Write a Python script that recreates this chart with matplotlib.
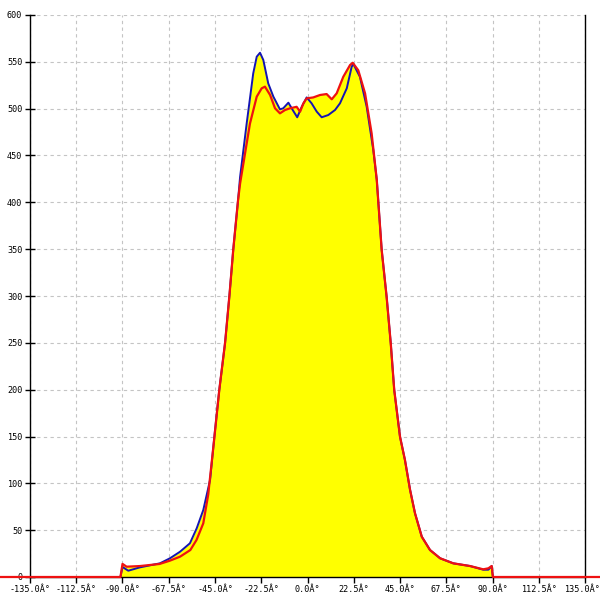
import matplotlib
matplotlib.use('Agg')
import matplotlib.pyplot as plt
import matplotlib.transforms as mtransforms
import numpy as np

# angles (deg) and counts
red_angle = [-180, -91, -90, -88, -81.5, -72, -67, -62, -57, -54, -50.7, -48.3, -45.5, -42.9, -40.1,
             -38.0, -36.1, -33.8, -32.8, -28.0, -24.7, -22.3, -20.7, -18.2, -15.8, -13.4, -10.9, -8.5,
             -5.3, -3.6, -2.0, -0.4, 2.8, 6.1, 9.3, 11.8, 14.2, 17.4, 20.7, 22.0, 24.7, 28.0, 31.2,
             33.7, 36.1, 38.5, 40.5, 42.2, 45.0, 47.4, 49.9, 52.3, 55.6, 59.6, 64.5, 70.9, 79.1,
             85.5, 88.0, 89.6, 90.2, 180]
red_value = [0, 0, 14, 11, 11.7, 13.9, 17.4, 21.7, 28.8, 39.5, 57.3, 88, 145, 200, 250,
             300, 350, 402, 420, 484, 512.8, 521.7, 523.5, 514.6, 500.4, 495, 498.6, 500.4,
             502, 496.8, 505.7, 511, 512, 514.6, 515.6, 510, 516.4, 534, 546.6, 549, 541, 516.4, 473.7,
             424, 349, 299, 249.5, 199.6, 149.8, 125, 93, 68, 43, 28.8, 20, 14.6, 11.7,
             8.2, 9.3, 11.7, 0, 0]

blue_angle = [-91, -90, -87.2, -81.5, -71.8, -66.9, -62, -57.2, -53.9, -50.7, -47.4, -45.3, -42.9,
              -40.1, -38.0, -36.1, -33.8, -32.8, -29.6, -26.4, -24.7, -23.1, -21.5, -19.1, -16.6,
              -13.4, -11.8, -9.3, -7.2, -5.0, -2.8, -0.4, 2.0, 4.5, 6.9, 10.1, 13.4, 15.8, 19.1,
              21.5, 22.3, 25.5, 28.8, 32.0, 33.7, 36.1, 38.5, 40.5, 42.2, 45.0, 47.4, 49.9, 52.3,
              55.6, 59.6, 64.5, 70.9, 79.1, 85.5, 88.0, 89.6, 90.2]
blue_value = [0, 10.7, 6.7, 10.3, 14.6, 20, 27, 36, 52, 71.5, 103.6, 150, 200,
              250, 300, 350, 402, 427, 484, 537.7, 555.5, 559.7, 552, 527, 512.8,
              499.3, 500.4, 506.4, 498.6, 490.8, 502, 512, 505.7, 496.8, 490.8, 493.2, 498.6, 505.7, 521.7,
              544.8, 547.7, 534, 502, 456, 424, 349, 299, 249.5, 199.6, 149.8, 125, 93, 68,
              43, 28.8, 20, 14.6, 11.7, 7.8, 7.8, 11.7, 0]

x_ticks = np.arange(-135, 135.1, 22.5)
y_ticks = np.arange(0, 601, 50)

fig = plt.figure(figsize=(6, 6), dpi=100)
ax = fig.add_axes([30 / 600, 23 / 600, 555 / 600, 562 / 600])

ax.fill_between(blue_angle, blue_value, color='#ffff00', lw=0, zorder=1)
ax.fill_between(red_angle, red_value, color='#ffff00', lw=0, zorder=1)
ax.plot(blue_angle, blue_value, color='#1414b4', lw=1.4, zorder=4)
ax.plot(red_angle, red_value, color='#ee1111', lw=1.6, zorder=5, clip_on=False)

ax.set_xlim(-135, 135)
ax.set_ylim(0, 600)
ax.set_xticks(x_ticks)
ax.set_xticklabels([f'{v:.1f}Â°' for v in x_ticks])
ax.set_yticks(y_ticks)
ax.set_yticklabels([str(v) for v in y_ticks])
for lab in ax.get_xticklabels() + ax.get_yticklabels():
    lab.set_fontfamily('DejaVu Sans Mono')
    lab.set_fontsize(6.1)
ax.tick_params(axis='x', direction='out', length=4, width=1, pad=2)
ax.tick_params(axis='y', direction='inout', length=7, width=1, pad=2)

# last x label sits on the figure edge, nudge it inside
last = ax.get_xticklabels()[-1]
last.set_transform(last.get_transform() + mtransforms.ScaledTranslation(-3 / 100, 0, fig.dpi_scale_trans))

ax.grid(True, color='#c4c4c4', linestyle=(0, (3, 3)), lw=0.8)
ax.set_axisbelow(True)
ax.spines['top'].set_visible(False)
for s in ['left', 'right', 'bottom']:
    ax.spines[s].set_color('black')
    ax.spines[s].set_linewidth(1)

fig.savefig('out.png', dpi=100)
